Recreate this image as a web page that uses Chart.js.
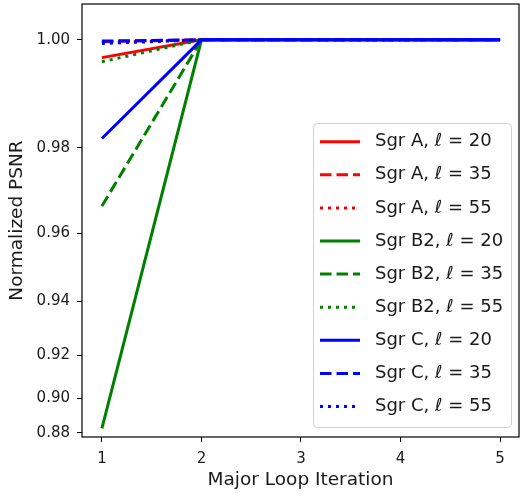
<!DOCTYPE html>
<html lang="en">

<head>
    <meta charset="UTF-8">
    <title>Normalized PSNR</title>
    <script src="https://cdn.jsdelivr.net/npm/chart.js"></script>
    <style>
        body { margin: 0; background: #fff; }
    </style>
</head>

<body>
    <canvas id="myChart" width="520" height="497"></canvas>

    <script>
        const iterations = [1, 2, 3, 4, 5];

        const seriesLabels = [
            'Sgr A, ℓ = 20', 'Sgr A, ℓ = 35', 'Sgr A, ℓ = 55',
            'Sgr B2, ℓ = 20', 'Sgr B2, ℓ = 35', 'Sgr B2, ℓ = 55',
            'Sgr C, ℓ = 20', 'Sgr C, ℓ = 35', 'Sgr C, ℓ = 55'
        ];

        const sgrA20 = [0.9970, 1, 1, 1, 1];
        const sgrA35 = [0.9997, 1, 1, 1, 1];
        const sgrA55 = [0.9996, 1, 1, 1, 1];
        const sgrB2_20 = [0.8828, 1, 1, 1, 1];
        const sgrB2_35 = [0.9669, 1, 1, 1, 1];
        const sgrB2_55 = [0.9963, 1, 1, 1, 1];
        const sgrC20 = [0.9819, 1, 1, 1, 1];
        const sgrC35 = [0.9998, 1, 1, 1, 1];
        const sgrC55 = [0.9994, 1, 1, 1, 1];

        const xTicks = [1, 2, 3, 4, 5];
        const yTicks = [0.88, 0.90, 0.92, 0.94, 0.96, 0.98, 1.00];

        const series = [sgrA20, sgrA35, sgrA55, sgrB2_20, sgrB2_35, sgrB2_55, sgrC20, sgrC35, sgrC55];
        const colors = ['#ff0000', '#ff0000', '#ff0000', '#008000', '#008000', '#008000', '#0000ff', '#0000ff', '#0000ff'];
        const dashes = [[], [11.5, 5], [3, 5]];

        // y axis stretched towards 1.0: position follows 10^(5v)
        class Pow10Scale extends Chart.LinearScale {
            static id = 'pow10';
            static defaults = Chart.LinearScale.defaults;
            fwd(v) { return Math.pow(10, 5 * v); }
            getPixelForValue(value) {
                const a = this.fwd(this.min), b = this.fwd(this.max);
                return this.getPixelForDecimal((this.fwd(value) - a) / (b - a));
            }
            getValueForPixel(pixel) {
                const a = this.fwd(this.min), b = this.fwd(this.max);
                const d = this.getDecimalForPixel(pixel);
                return Math.log10(a + d * (b - a)) / 5;
            }
        }
        Chart.register(Pow10Scale);

        Chart.defaults.font.family = "'DejaVu Sans', sans-serif";
        Chart.defaults.color = '#1a1a1a';

        // frame around the plot area
        const frame = {
            id: 'frame',
            afterDatasetsDraw(chart) {
                const { ctx, chartArea: a } = chart;
                ctx.save();
                ctx.strokeStyle = '#000';
                ctx.lineWidth = 1.2;
                ctx.strokeRect(a.left, a.top, a.right - a.left, a.bottom - a.top);
                ctx.restore();
            }
        };

        // legend box in the lower right of the plot
        const boxLegend = {
            id: 'boxLegend',
            afterDraw(chart) {
                const ctx = chart.ctx;
                const x = 313, y = 123, w = 198, h = 304, r = 4;
                ctx.save();
                ctx.beginPath();
                ctx.roundRect(x + 0.5, y + 0.5, w, h, r);
                ctx.fillStyle = 'rgba(255,255,255,0.8)';
                ctx.fill();
                ctx.strokeStyle = '#d0d0d0';
                ctx.lineWidth = 1;
                ctx.stroke();

                ctx.textBaseline = 'middle';
                chart.data.datasets.forEach((ds, i) => {
                    const cy = 141.7 + i * 33.1;
                    ctx.beginPath();
                    ctx.setLineDash(ds.borderDash);
                    ctx.lineCap = 'butt';
                    ctx.strokeStyle = ds.borderColor;
                    ctx.lineWidth = ds.borderWidth;
                    ctx.moveTo(320, cy);
                    ctx.lineTo(360, cy);
                    ctx.stroke();
                    ctx.setLineDash([]);

                    const parts = ds.label.split('ℓ');
                    let tx = 375;
                    ctx.fillStyle = '#1a1a1a';
                    ctx.font = "18px 'DejaVu Sans'";
                    ctx.fillText(parts[0], tx, cy);
                    tx += ctx.measureText(parts[0]).width;
                    ctx.font = "italic 18px 'DejaVu Sans'";
                    ctx.fillText('ℓ', tx, cy);
                    tx += ctx.measureText('ℓ').width;
                    ctx.font = "18px 'DejaVu Sans'";
                    ctx.fillText(parts[1], tx, cy);
                });
                ctx.restore();
            }
        };

        const datasets = series.map((vals, i) => ({
            label: seriesLabels[i],
            data: iterations.map((it, j) => ({ x: it, y: vals[j] })),
            borderColor: colors[i],
            borderWidth: 3,
            borderDash: dashes[i % 3],
            borderCapStyle: 'butt',
            pointRadius: 0,
            fill: false,
            tension: 0,
            order: series.length - i
        }));

        const config = {
            type: 'line',
            data: { datasets: datasets },
            plugins: [frame, boxLegend],
            options: {
                responsive: false,
                devicePixelRatio: 1,
                animation: false,
                layout: { padding: { top: 4, right: 1, left: 0, bottom: 0 } },
                plugins: {
                    legend: { display: false },
                    tooltip: { enabled: false }
                },
                scales: {
                    x: {
                        type: 'linear',
                        min: 0.8,
                        max: 5.19,
                        afterBuildTicks: s => { s.ticks = xTicks.map(v => ({ value: v })); },
                        afterFit: s => { s.height = 60; s.paddingLeft = 0; s.paddingRight = 0; },
                        border: { display: false },
                        grid: { drawOnChartArea: false, drawTicks: true, tickLength: 5, tickColor: '#000', color: '#000' },
                        ticks: { font: { size: 15 }, padding: 8 },
                        title: { display: true, text: 'Major Loop Iteration', font: { size: 18.5 }, padding: { bottom: 6 } }
                    },
                    y: {
                        type: 'pow10',
                        min: 0.87706,
                        max: 1.00574,
                        afterBuildTicks: s => { s.ticks = yTicks.map(v => ({ value: v })); },
                        afterFit: s => { s.width = 82; s.paddingTop = 0; s.paddingBottom = 0; },
                        border: { display: false },
                        grid: { drawOnChartArea: false, drawTicks: true, tickLength: 5, tickColor: '#000', color: '#000' },
                        ticks: { font: { size: 15 }, padding: 7, callback: v => v.toFixed(2) },
                        title: { display: true, text: 'Normalized PSNR', font: { size: 18.5 }, padding: { top: 6 } }
                    }
                }
            }
        };

        const myChart = new Chart(document.getElementById('myChart'), config);
    </script>
</body>

</html>
